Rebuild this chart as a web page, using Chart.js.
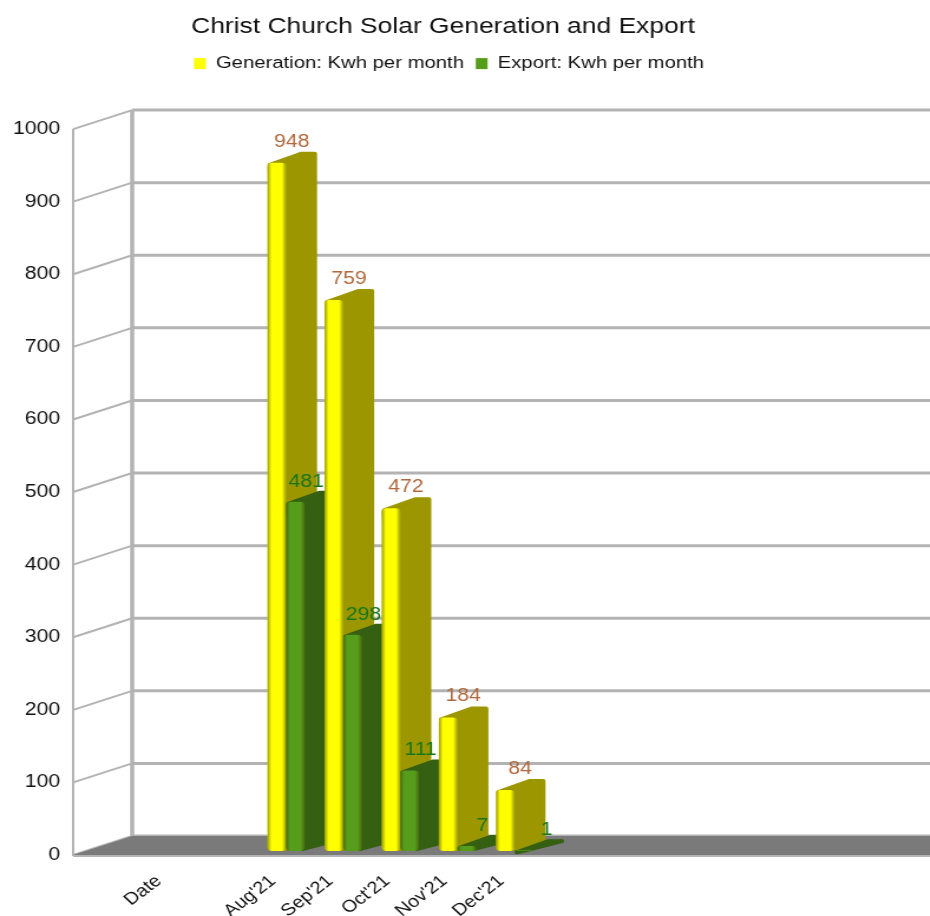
<!DOCTYPE html>
<html>
<head>
<meta charset="utf-8">
<title>Christ Church Solar Generation and Export</title>
<script src="https://cdn.jsdelivr.net/npm/chart.js@4/dist/chart.umd.min.js"></script>
<style>
  html, body { margin: 0; padding: 0; background: #fff; width: 930px; height: 916px; overflow: hidden; }
  /* the reference is stretched sideways, text included */
  #chart { position: absolute; left: 0; top: 0; transform: scaleX(1.18); transform-origin: 0 0; }
</style>
</head>
<body>
<canvas id="chart" width="788" height="916"></canvas>
<script>
const categories = ['', 'Date', '', "Aug'21", "Sep'21", "Oct'21", "Nov'21", "Dec'21", '', '', '', '', '', '', ''];
const generation = [null, null, null, 948, 759, 472, 184, 84, null, null, null, null, null, null, null];
const exported = [null, null, null, 481, 298, 111, 7, 1, null, null, null, null, null, null, null];

const STRETCH = 1.18;
const WALL_DX = 59 / STRETCH, WALL_DY = -19;
const BAR_SHIFT_X = 13 / STRETCH, BAR_SHIFT_Y = -4;
const BAR_DX = 31 / STRETCH, BAR_DY = -11;
const TITLE_CENTER = 443 / STRETCH, LEGEND_CENTER = 449 / STRETCH;

const sideColors = ['#9c9600', '#355f11'];
const labelColors = ['#b0683c', '#17761a'];
const labelOffsets = [[15 / STRETCH, -21], [11 / STRETCH, -20]];
// the two tiny export bars have their labels pushed further right
const tinyLabelNudge = { 6: 4, 7: 10 };

// Side and top of a bar, same colour, slightly rounded
function drawBarSide(ctx, el, color) {
  const l = el.x - el.width / 2, r = el.x + el.width / 2;
  ctx.fillStyle = color;
  ctx.strokeStyle = color;
  ctx.lineWidth = 4;
  ctx.lineJoin = 'round';
  ctx.beginPath();
  ctx.moveTo(l + 2, el.y + 2);
  ctx.lineTo(l + 2 + BAR_DX, el.y + 2 + BAR_DY);
  ctx.lineTo(r + BAR_DX - 2, el.y + 2 + BAR_DY);
  ctx.lineTo(r + BAR_DX - 2, el.base + BAR_DY + 1);
  ctx.lineTo(r - 2, el.base - 2);
  ctx.closePath();
  ctx.fill();
  ctx.stroke();
}

// Darkens the edges of the front face so it reads as rounded
function drawBarShade(ctx, el) {
  const l = el.x - el.width / 2, r = el.x + el.width / 2;
  const g = ctx.createLinearGradient(l, 0, r, 0);
  g.addColorStop(0, 'rgba(60,60,0,0.5)');
  g.addColorStop(0.22, 'rgba(60,60,0,0)');
  g.addColorStop(0.78, 'rgba(60,60,0,0)');
  g.addColorStop(1, 'rgba(60,60,0,0.5)');
  ctx.fillStyle = g;
  ctx.beginPath();
  ctx.roundRect(l, el.y, r - l, el.base - el.y, 4);
  ctx.fill();
}

const box3d = {
  id: 'box3d',
  beforeDraw(chart) {
    // title and legend sit left of the canvas middle in the reference
    const title = chart.titleBlock, legend = chart.legend;
    title.left = 0;
    title.right = TITLE_CENTER * 2;
    legend.left = 0;
    legend.right = LEGEND_CENTER * 2;
    legend.top = 45;
    legend.bottom = 80;
  },
  beforeDatasetsDraw(chart) {
    const ctx = chart.ctx;
    const xs = chart.scales.x, ys = chart.scales.y;
    const y0 = ys.getPixelForValue(0), yTop = ys.getPixelForValue(1000);
    const back = xs.left + WALL_DX;

    ctx.save();
    // back wall grid and side wall lines
    ctx.strokeStyle = '#b3b3b3';
    ys.ticks.forEach(t => {
      const y = ys.getPixelForValue(t.value);
      ctx.lineWidth = 3;
      ctx.beginPath();
      ctx.moveTo(back, y + WALL_DY);
      ctx.lineTo(xs.right + WALL_DX, y + WALL_DY);
      ctx.stroke();
      ctx.lineWidth = 2;
      ctx.beginPath();
      ctx.moveTo(xs.left, y);
      ctx.lineTo(back, y + WALL_DY);
      ctx.stroke();
    });
    ctx.lineWidth = 2;
    ctx.beginPath();
    ctx.moveTo(xs.left, y0 + 1);
    ctx.lineTo(xs.left, yTop);
    ctx.stroke();
    ctx.lineWidth = 3.5;
    ctx.beginPath();
    ctx.moveTo(back, y0 + WALL_DY);
    ctx.lineTo(back, yTop + WALL_DY);
    ctx.stroke();

    // floor
    ctx.fillStyle = '#7a7a7a';
    ctx.beginPath();
    ctx.moveTo(xs.left, y0);
    ctx.lineTo(back, y0 + WALL_DY);
    ctx.lineTo(xs.right + WALL_DX, y0 + WALL_DY);
    ctx.lineTo(xs.right, y0);
    ctx.closePath();
    ctx.fill();
    ctx.strokeStyle = '#b3b3b3';
    ctx.lineWidth = 2;
    ctx.beginPath();
    ctx.moveTo(xs.left, y0 + 1);
    ctx.lineTo(xs.right, y0 + 1);
    ctx.stroke();

    // bars month by month so nearer ones overlap correctly
    ctx.translate(BAR_SHIFT_X, BAR_SHIFT_Y);
    categories.forEach((c, i) => {
      chart.data.datasets.forEach((ds, d) => {
        if (ds.data[i] === null) return;
        const el = chart.getDatasetMeta(d).data[i];
        drawBarSide(ctx, el, sideColors[d]);
        el.draw(ctx);
        drawBarShade(ctx, el);
      });
    });

    // value labels
    ctx.font = '18px "Liberation Sans"';
    ctx.textAlign = 'center';
    ctx.textBaseline = 'middle';
    categories.forEach((c, i) => {
      chart.data.datasets.forEach((ds, d) => {
        if (ds.data[i] === null) return;
        const el = chart.getDatasetMeta(d).data[i];
        const nudge = d === 1 ? (tinyLabelNudge[i] || 0) : 0;
        ctx.fillStyle = labelColors[d];
        ctx.fillText(String(ds.data[i]), el.x + labelOffsets[d][0] + nudge, el.y + labelOffsets[d][1]);
      });
    });
    ctx.restore();
    return false;
  }
};

new Chart(document.getElementById('chart'), {
  type: 'bar',
  data: {
    labels: categories,
    datasets: [
      { label: 'Generation: Kwh per month', data: generation, backgroundColor: '#ffff00', borderRadius: 4, borderSkipped: false },
      { label: 'Export: Kwh per month', data: exported, backgroundColor: '#579d1c', borderRadius: 4, borderSkipped: false }
    ]
  },
  options: {
    responsive: false,
    animation: false,
    categoryPercentage: 0.65,
    barPercentage: 1,
    plugins: {
      title: {
        display: true,
        text: 'Christ Church Solar Generation and Export',
        color: '#111',
        font: { family: '"Liberation Sans"', size: 22.4, weight: 'normal' },
        padding: { top: 13, bottom: 52 }
      },
      legend: {
        display: true,
        labels: {
          color: '#111',
          font: { family: '"Liberation Sans"', size: 17.2 },
          boxWidth: 10,
          boxHeight: 11,
          padding: 10
        }
      },
      tooltip: { enabled: false }
    },
    scales: {
      x: {
        grid: { display: false },
        border: { display: false },
        ticks: {
          autoSkip: false,
          minRotation: 42,
          maxRotation: 42,
          color: '#111',
          padding: 8,
          font: { family: '"Liberation Sans"', size: 17 }
        },
        afterFit(scale) { scale.height = 61; }
      },
      y: {
        min: 0,
        max: 1000,
        grid: { display: false },
        border: { display: false },
        ticks: {
          stepSize: 100,
          color: '#111',
          padding: 3,
          font: { family: '"Liberation Sans"', size: 18 },
          callback: v => String(v)
        },
        afterFit(scale) { scale.width = 62; }
      }
    }
  },
  plugins: [box3d]
});
</script>
</body>
</html>
